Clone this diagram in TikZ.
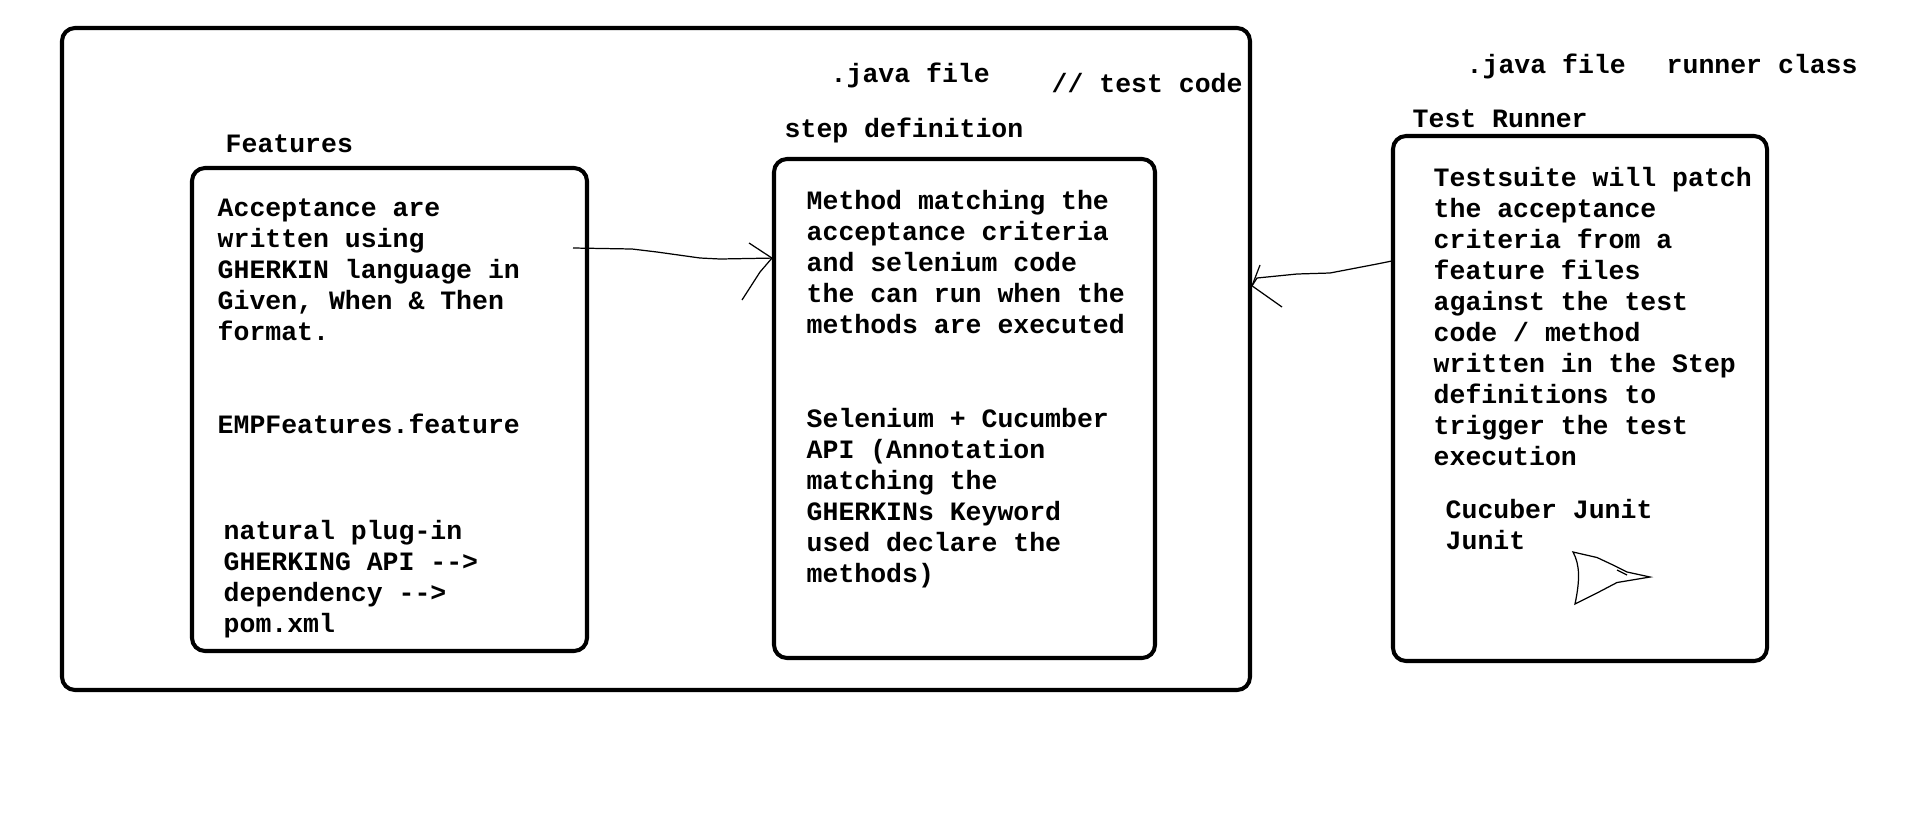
\documentclass[tikz,border=0pt]{standalone}
\usepackage{fontspec}
\newfontfamily\courfont{Liberation Mono}

\tikzset{
  box/.style={draw, line width=1.15pt, rounded corners=0.13cm, inner sep=0},
  txt/.style={anchor=base west, inner sep=0, align=left},
  pen/.style={line width=0.35pt}
}

\begin{document}
\begin{tikzpicture}[font=\courfont\bfseries\fontsize{7.54}{8.82}\selectfont]
\useasboundingbox (0,0) rectangle (19.14,-8.28);

\node[box, minimum width=11.88cm, minimum height=6.62cm] (frame) at (6.56,-3.59) {};

\begin{scope}
\node[txt] (featlbl) at (2.25,-1.52) {Features};
\node[box, minimum width=3.95cm, minimum height=4.83cm] (feat) at (3.895,-4.095) {};
\node[txt] (feattxt) at (2.17,-3.40) {Acceptance are\\written using\\GHERKIN language in\\Given, When \& Then\\format.};
\node[txt] (emp) at (2.17,-4.33) {EMPFeatures.feature};
\node[txt] (plugin) at (2.23,-6.32) {natural plug-in\\GHERKING API -{}->\\dependency -{}->\\pom.xml};
\end{scope}

\begin{scope}
\node[txt] (javastep) at (8.30,-0.82) {.java file};
\node[txt] (testcode) at (10.51,-0.92) {// test code};
\node[txt] (steplbl) at (7.84,-1.37) {step definition};
\node[box, minimum width=3.81cm, minimum height=4.99cm] (step) at (9.645,-4.085) {};
\node[txt] (steptxt) at (8.06,-3.33) {Method matching the\\acceptance criteria\\and selenium code\\the can run when the\\methods are executed};
\node[txt] (api) at (8.06,-5.82) {Selenium + Cucumber\\API (Annotation\\matching the\\GHERKINs Keyword\\used declare the\\methods)};
\end{scope}

\begin{scope}
\node[txt] (javarun) at (14.66,-0.73) {.java file};
\node[txt] (runclass) at (16.66,-0.73) {runner class};
\node[txt] (runlbl) at (14.12,-1.27) {Test Runner};
\node[box, minimum width=3.74cm, minimum height=5.25cm] (runner) at (15.80,-3.985) {};
\node[txt] (runtxt) at (14.33,-4.65) {Testsuite will patch\\the acceptance\\criteria from a\\feature files\\against the test\\code / method\\written in the Step\\definitions to\\trigger the test\\execution};
\node[txt] (junit) at (14.45,-5.49) {Cucuber Junit\\Junit};
\end{scope}

\coordinate (featout) at (5.73,-2.48);

\begin{scope}[pen]
\draw (featout) -- (6.32,-2.49) -- (6.57,-2.52) -- (7.00,-2.58) -- (7.20,-2.59) -- (step.142);
\draw (7.49,-2.43) -- (step.142);
\draw (step.142) -- (7.60,-2.72) -- (7.42,-3.00);

\draw (runner.144) -- (13.77,-2.64) -- (13.30,-2.73) -- (12.97,-2.74) -- (12.57,-2.78) -- (frame.7.3);
\draw (frame.7.3) -- (12.60,-2.65);
\draw (frame.7.3) -- (12.82,-3.07);

\draw (15.73,-5.52) .. controls (15.80,-5.65) and (15.80,-5.80) .. (15.75,-6.04)
      -- (15.97,-5.93) -- (16.17,-5.825) -- (16.50,-5.77)
      -- (16.27,-5.72) -- (16.13,-5.65) -- (15.97,-5.575) -- cycle;
\draw (16.17,-5.70) -- (16.27,-5.75);
\end{scope}
\end{tikzpicture}
\end{document}
